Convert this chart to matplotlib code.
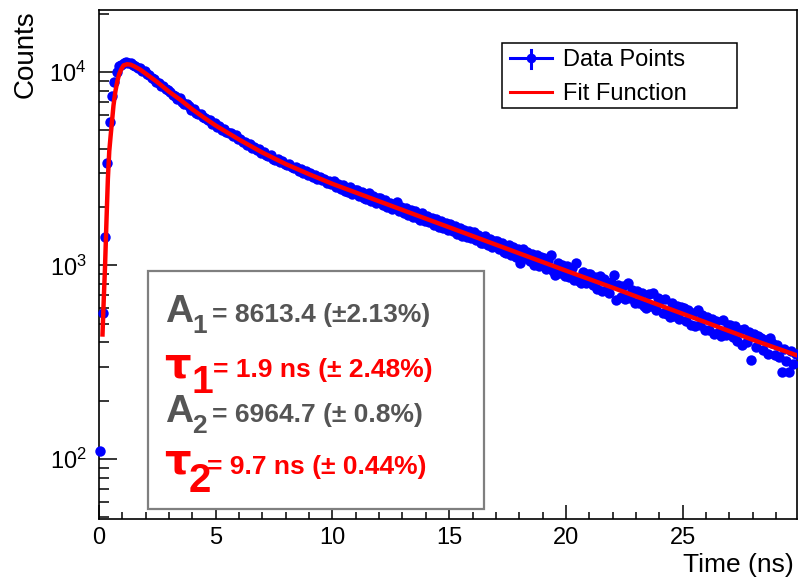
import numpy as np
import matplotlib
matplotlib.use("Agg")
import matplotlib.pyplot as plt
from matplotlib.lines import Line2D
from matplotlib.patches import Rectangle

plt.rcParams['font.family'] = ['Liberation Sans', 'DejaVu Sans']
plt.rcParams['mathtext.default'] = 'regular'

# ---------------- data ----------------
bin_width = 0.1
counts = [
    110, 570, 1400, 3400, 5500, 7500, 8900, 10000, 10700, 10900,
    11150, 11200, 11100, 11050, 10850, 10750, 10500, 10450, 10150, 10050,
    9700, 9580, 9290, 9180, 8890, 8790, 8500, 8420, 8140, 8030,
    7880, 7610, 7550, 7280, 7290, 7010, 6840, 6790, 6650, 6340,
    6420, 6150, 6090, 6060, 5830, 5790, 5620, 5610, 5390, 5420,
    5210, 5240, 5030, 5060, 4900, 4810, 4850, 4660, 4700, 4510,
    4500, 4330, 4360, 4190, 4230, 4060, 4090, 3930, 3980, 3820,
    3840, 3720, 3660, 3700, 3560, 3520, 3550, 3420, 3450, 3340,
    3290, 3360, 3220, 3180, 3230, 3090, 3140, 3020, 3060, 2950,
    2990, 2880, 2920, 2810, 2860, 2750, 2800, 2680, 2740, 2630,
    2720, 2540, 2650, 2470, 2600, 2430, 2390, 2540, 2350, 2460,
    2450, 2280, 2400, 2230, 2200, 2360, 2150, 2290, 2100, 2240,
    2220, 2050, 2180, 2000, 2100, 1960, 2060, 2133, 1900, 2010,
    1860, 1990, 1830, 1940, 1790, 1910, 1760, 1720, 1860, 1700,
    1810, 1670, 1760, 1620, 1730, 1580, 1700, 1560, 1660, 1520,
    1630, 1510, 1590, 1460, 1560, 1420, 1530, 1400, 1500, 1380,
    1480, 1350, 1440, 1310, 1300, 1420, 1270, 1370, 1240, 1340,
    1330, 1210, 1300, 1180, 1160, 1270, 1130, 1240, 1110, 1210,
    1025, 1210, 1090, 1180, 1050, 1150, 1010, 1130, 990, 1100,
    1090, 960, 1070, 1133, 940, 893, 1030, 910, 1010, 880,
    990, 870, 970, 840, 1025, 830, 813, 920, 810, 900,
    900, 790, 870, 760, 880, 740, 850, 750, 720, 820,
    893, 660, 790, 690, 780, 670, 813, 680, 750, 640,
    740, 640, 720, 620, 600, 710, 620, 720, 590, 680,
    660, 570, 670, 560, 540, 640, 550, 620, 530, 610,
    600, 515, 590, 495, 570, 485, 590, 490, 555, 465,
    540, 465, 530, 445, 515, 455, 430, 525, 435, 495,
    490, 425, 485, 405, 465, 390, 470, 400, 455, 325,
    445, 380, 430, 421, 365, 410, 350, 420, 398, 345,
    390, 335, 283, 370, 320, 283, 360, 310, 350,
]
time_bins = bin_width / 2 + bin_width * np.arange(len(counts))

fit_time = [0.15, 0.20, 0.26, 0.32, 0.38, 0.44, 0.50, 0.56, 0.62, 0.70, 0.78,
            0.86, 0.95, 1.05, 1.2, 1.35, 1.5, 1.75, 2.0, 2.5, 3.0, 3.5, 4.0,
            4.5, 5, 6, 7, 8, 9, 10, 11, 12, 14, 16, 18, 20, 22, 24, 26, 28, 29.9]
fit_vals = [440, 650, 1000, 1700, 2800, 3900, 4700, 5600, 6700, 7900, 8900,
            9700, 10300, 10800, 10950, 10900, 10700, 10300, 9800, 8850, 7900,
            7150, 6400, 5800, 5280, 4470, 3830, 3340, 2960, 2640, 2380, 2145,
            1745, 1420, 1155, 940, 768, 624, 508, 413, 343]

x_ticks = [0, 5, 10, 15, 20, 25]
param_lines = [
    ("A", "1", "= 8613.4 (±2.13%)"),
    ("τ", "1", "= 1.9 ns (± 2.48%)"),
    ("A", "2", "= 6964.7 (± 0.8%)"),
    ("τ", "2", "= 9.7 ns (± 0.44%)"),
]
legend_labels = ["Data Points", "Fit Function"]

# ---------------- figure ----------------
W, H = 798, 579
fig = plt.figure(figsize=(W / 100, H / 100), dpi=100)

def fx(px):
    return px / W

def fy(py):
    return 1 - py / H

ax = fig.add_axes([fx(99), fy(519), (797 - 99) / W, (519 - 9.5) / H])
ax.set_yscale('log')
ax.set_xlim(0, 29.9)
ax.set_ylim(49, 21000)

ax.plot(time_bins, counts, 'o', color='#0000ff', markersize=7.5,
        markeredgewidth=0, zorder=3, clip_on=False)
ax.plot(fit_time, fit_vals, '-', color='#ff0000', lw=3.2, zorder=4)

ax.set_xticks(x_ticks)
ax.set_xticks(np.arange(0, 30, 1), minor=True)
ax.tick_params(axis='both', which='both', direction='in', width=1.1,
               top=False, right=False, colors='black')
ax.tick_params(axis='x', which='major', length=10, pad=6, labelsize=17)
ax.tick_params(axis='x', which='minor', length=5)
ax.tick_params(axis='y', which='major', length=13, pad=9, labelsize=17)
ax.tick_params(axis='y', which='minor', length=7)
ax.yaxis.set_minor_formatter(matplotlib.ticker.NullFormatter())
for s in ax.spines.values():
    s.set_linewidth(1.2)

# axis titles
fig.text(fx(26), fy(10), "Counts", rotation=90, ha='center', va='top',
         fontsize=20)
fig.text(fx(794), fy(572), "Time (ns)", ha='right', va='baseline',
         fontsize=19)

# parameter box
fig.patches.append(Rectangle((fx(148), fy(509)), (484 - 148) / W, (509 - 271) / H,
                             transform=fig.transFigure, facecolor='white',
                             edgecolor='#7f7f7f', lw=1.6, zorder=5))
gray = '#555555'
red = '#ff0000'
rows = [
    dict(base=322, col=gray, big=28, bx=165, sx=192, sb=333, ssz=19, tx=212),
    dict(base=377, col=red, big=30, bx=164, sx=192, sb=393, ssz=28, tx=213),
    dict(base=422, col=gray, big=28, bx=165, sx=192, sb=433, ssz=19, tx=212),
    dict(base=474, col=red, big=30, bx=164, sx=189, sb=492, ssz=29, tx=207),
]
for (sym, sub, txt), r in zip(param_lines, rows):
    fam = ['DejaVu Sans'] if sym == "τ" else ['Liberation Sans']
    fig.text(fx(r['bx']), fy(r['base']), sym, color=r['col'], fontsize=r['big'],
             fontweight='bold', family=fam, ha='left', va='baseline', zorder=6)
    fig.text(fx(r['sx']), fy(r['sb']), sub, color=r['col'], fontsize=r['ssz'],
             fontweight='bold', ha='left', va='baseline', zorder=7)
    fig.text(fx(r['tx']), fy(r['base']), txt, color=r['col'], fontsize=19,
             fontweight='bold', ha='left', va='baseline', zorder=6)

# legend
fig.patches.append(Rectangle((fx(502), fy(108)), (737 - 502) / W, (108 - 43) / H,
                             transform=fig.transFigure, facecolor='white',
                             edgecolor='black', lw=1.1, zorder=5))
fig.lines.append(Line2D([fx(510), fx(552)], [fy(58), fy(58)], color='#0000ff',
                        lw=2.2, transform=fig.transFigure, zorder=6))
fig.lines.append(Line2D([fx(531), fx(531)], [fy(49.5), fy(67.5)], color='#0000ff',
                        lw=2.2, transform=fig.transFigure, zorder=6))
fig.lines.append(Line2D([fx(531)], [fy(58)], color='#0000ff', marker='o',
                        markersize=7, markeredgewidth=0,
                        transform=fig.transFigure, zorder=7))
fig.lines.append(Line2D([fx(510), fx(552)], [fy(91.5), fy(91.5)], color='#ff0000',
                        lw=2.2, transform=fig.transFigure, zorder=6))
fig.text(fx(563), fy(66.5), legend_labels[0], fontsize=17, ha='left',
         va='baseline', zorder=7)
fig.text(fx(563), fy(100), legend_labels[1], fontsize=17, ha='left',
         va='baseline', zorder=7)

fig.savefig("out.png", dpi=100)
